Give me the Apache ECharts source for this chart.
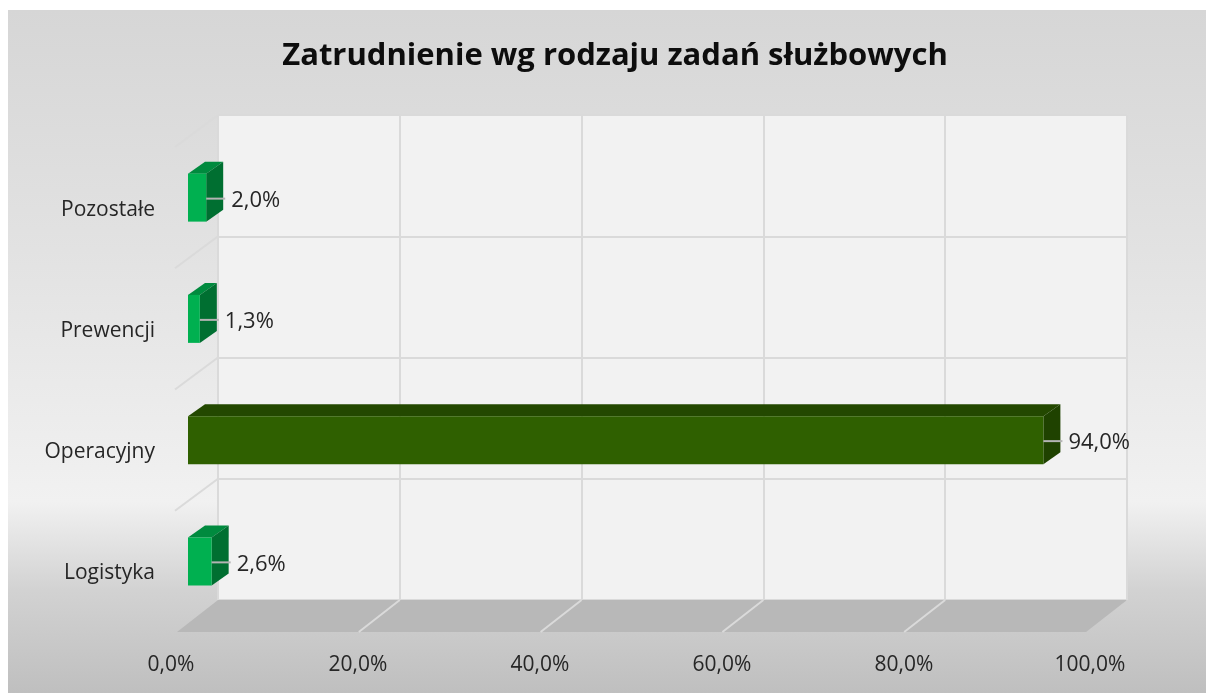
<!DOCTYPE html>
<html>
<head>
<meta charset="utf-8">
<title>Zatrudnienie wg rodzaju zadań służbowych</title>
<script src="https://cdn.jsdelivr.net/npm/echarts@6/dist/echarts.min.js"></script>
<style>
  html, body { margin: 0; padding: 0; background: #fff; }
  #main { width: 1206px; height: 693px; }
</style>
</head>
<body>
<div id="main"></div>
<script>
var titleText = 'Zatrudnienie wg rodzaju zadań służbowych';
var categories = ['Logistyka', 'Operacyjny', 'Prewencji', 'Pozostałe'];
var values = [2.6, 94.0, 1.3, 2.0];
var xTicks = [0, 20, 40, 60, 80, 100];

var fontName = '"Open Sans", "Noto Sans", sans-serif';
var gridColor = '#dadada';
var textColor = '#262626';
var green = { front: '#00b050', top: '#008a3e', side: '#006f31' };
var dark = { front: '#2f6000', top: '#234800', side: '#1f4200' };
var barShades = [green, dark, green, green];

// fake 3d: back wall, bar plane and front edge are three grids shifted against each other
var wall = { left: 218, top: 115, width: 909, height: 485 };
var barPlane = { left: 188, top: 137, width: 910, height: 485 };
var front = { left: 176, top: 149, width: 910, height: 485 };
var floorDx = -41, floorDy = 32;
var wallDx = -43, wallDy = 32;
var barDx = 17, barDy = -12, barH = 48;

function pct(v) {
  return v.toFixed(1).replace('.', ',') + '%';
}

// first and last tick label sit a little further out in the reference
function tickLabel(v) {
  if (v === xTicks[0]) return '{first|' + pct(v) + '}';
  if (v === xTicks[xTicks.length - 1]) return '{last|' + pct(v) + '}';
  return pct(v);
}

function renderFloor(params, api) {
  var h = api.size([0, 1])[1];
  var left = api.coord([0, 0]);
  var right = api.coord([100, 0]);
  var y = left[1] + h / 2;
  return {
    type: 'polygon',
    shape: { points: [[left[0], y], [right[0], y], [right[0] + floorDx, y + floorDy], [left[0] + floorDx, y + floorDy]] },
    style: { fill: '#b8b8b8' }
  };
}

function renderFloorLine(params, api) {
  var h = api.size([0, 1])[1];
  var p = api.coord([api.value(0), 0]);
  var y = p[1] + h / 2;
  return {
    type: 'line',
    shape: { x1: p[0], y1: y, x2: p[0] + floorDx, y2: y + floorDy },
    style: { stroke: gridColor, lineWidth: 2 }
  };
}

function renderWallLine(params, api) {
  var h = api.size([0, 1])[1];
  var p = api.coord([0, api.value(1)]);
  var y = p[1] - h / 2;
  return {
    type: 'line',
    shape: { x1: p[0], y1: y, x2: p[0] + wallDx, y2: y + wallDy },
    style: { stroke: gridColor, lineWidth: 2 }
  };
}

function renderBar(params, api) {
  var v = api.value(0);
  var start = api.coord([0, api.value(1)]);
  var end = api.coord([v, api.value(1)]);
  var shade = barShades[params.dataIndex];
  var x0 = start[0], x1 = end[0];
  var y0 = start[1] - barH / 2, y1 = start[1] + barH / 2;
  var mid = start[1] + 1;
  return {
    type: 'group',
    children: [
      { type: 'polygon', shape: { points: [[x0, y0], [x1, y0], [x1 + barDx, y0 + barDy], [x0 + barDx, y0 + barDy]] }, style: { fill: shade.top } },
      { type: 'polygon', shape: { points: [[x1, y0], [x1 + barDx, y0 + barDy], [x1 + barDx, y1 + barDy], [x1, y1]] }, style: { fill: shade.side } },
      { type: 'rect', shape: { x: x0, y: y0, width: x1 - x0, height: barH }, style: { fill: shade.front } },
      { type: 'line', shape: { x1: x1, y1: mid, x2: x1 + barDx + 2, y2: mid }, style: { stroke: '#b4b4b4', lineWidth: 2 } },
      { type: 'text', x: x1 + barDx + 8, y: mid + 2, style: { text: pct(v), fill: textColor, font: '22px ' + fontName, textAlign: 'left', textVerticalAlign: 'middle' } }
    ]
  };
}

// the outer floor edges have no line of their own
var tickData = xTicks.slice(1, -1).map(function (t) { return [t, 0]; });
var wallData = categories.map(function (c, i) { return [0, i]; });
var barData = values.map(function (v, i) { return [v, i]; });

var option = {
  animation: false,
  textStyle: { fontFamily: fontName },
  graphic: [{
    type: 'rect',
    z: -10,
    silent: true,
    shape: { x: 8, y: 10, width: 1198, height: 683 },
    style: {
      fill: new echarts.graphic.LinearGradient(0, 0, 0, 1, [
        { offset: 0, color: '#d6d6d6' },
        { offset: 0.35, color: '#e2e2e2' },
        { offset: 0.72, color: '#f1f1f1' },
        { offset: 0.85, color: '#d2d2d2' },
        { offset: 1, color: '#bfbfbf' }
      ])
    }
  }],
  title: {
    text: titleText,
    left: 610,
    top: 36,
    textAlign: 'center',
    textStyle: { fontFamily: fontName, fontSize: 31, fontWeight: 'bold', color: '#0d0d0d' }
  },
  grid: [
    { left: wall.left, top: wall.top, width: wall.width, height: wall.height, show: true, backgroundColor: '#f2f2f2', borderWidth: 0 },
    { left: front.left, top: front.top, width: front.width, height: front.height },
    { left: barPlane.left, top: barPlane.top, width: barPlane.width, height: barPlane.height }
  ],
  xAxis: [
    {
      gridIndex: 0, type: 'value', min: 0, max: 100, interval: 20,
      axisLine: { show: false }, axisTick: { show: false }, axisLabel: { show: false },
      splitLine: { show: true, lineStyle: { color: gridColor, width: 2 } }
    },
    {
      gridIndex: 1, type: 'value', min: 0, max: 100, interval: 20,
      axisLine: { show: false }, axisTick: { show: false }, splitLine: { show: false },
      axisLabel: {
        margin: 21, fontFamily: fontName, fontSize: 21, color: textColor, formatter: tickLabel,
        rich: {
          first: { fontFamily: fontName, fontSize: 21, color: textColor, padding: [0, 10, 0, 0] },
          last: { fontFamily: fontName, fontSize: 21, color: textColor, padding: [0, 0, 0, 8] }
        }
      }
    },
    { gridIndex: 2, type: 'value', min: 0, max: 100, show: false }
  ],
  yAxis: [
    {
      gridIndex: 0, type: 'category', data: categories,
      axisLine: { show: false }, axisTick: { show: false }, axisLabel: { show: false },
      splitLine: { show: true, lineStyle: { color: gridColor, width: 2 } }
    },
    {
      gridIndex: 1, type: 'category', data: categories,
      axisLine: { show: false }, axisTick: { show: false }, splitLine: { show: false },
      axisLabel: { margin: 21, fontFamily: fontName, fontSize: 21, color: textColor }
    },
    { gridIndex: 2, type: 'category', data: categories, show: false }
  ],
  series: [
    { type: 'custom', xAxisIndex: 0, yAxisIndex: 0, renderItem: renderFloor, data: [[0, 0]], silent: true, clip: false, z: 3 },
    { type: 'custom', xAxisIndex: 0, yAxisIndex: 0, renderItem: renderFloorLine, data: tickData, silent: true, clip: false, z: 4 },
    { type: 'custom', xAxisIndex: 0, yAxisIndex: 0, renderItem: renderWallLine, data: wallData, silent: true, clip: false, z: 4 },
    { type: 'custom', xAxisIndex: 2, yAxisIndex: 2, renderItem: renderBar, data: barData, silent: true, clip: false, z: 5 }
  ]
};

var myChart = echarts.init(document.getElementById('main'));
myChart.setOption(option);
</script>
</body>
</html>
